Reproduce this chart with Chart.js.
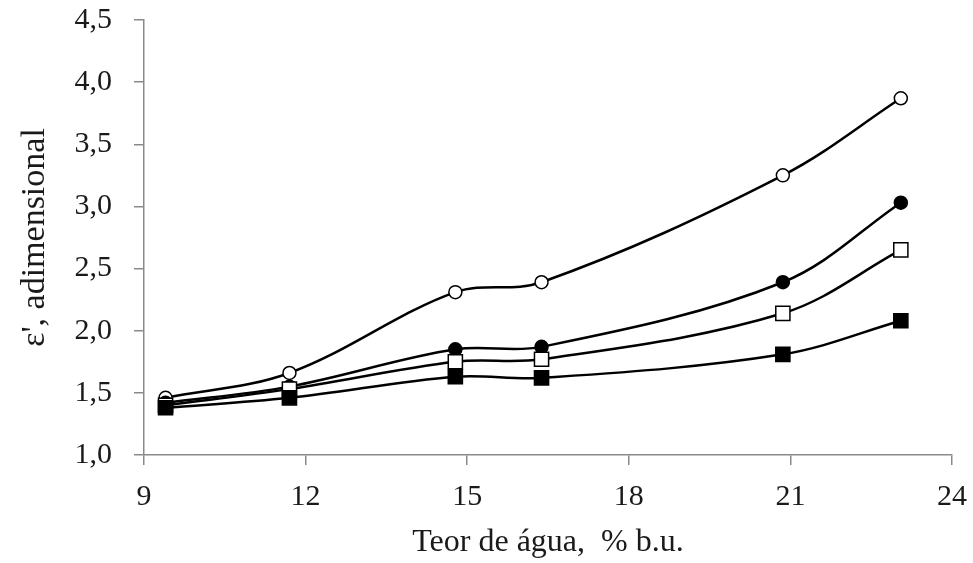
<!DOCTYPE html>
<html>
<head>
<meta charset="utf-8">
<script src="https://cdn.jsdelivr.net/npm/chart.js@4.4.1/dist/chart.umd.min.js"></script>
<style>
  html, body { margin: 0; padding: 0; background: #fff; }
  #wrap { width: 973px; height: 563px; }
</style>
</head>
<body>
<div id="wrap"><canvas id="chart" width="973" height="563"></canvas></div>
<script>
// teor de água (% b.u.) e constante dielétrica para as quatro séries
const teor = [9.4, 11.7, 14.78, 16.38, 20.86, 23.05];
const circuloAberto = [1.46, 1.66, 2.31, 2.39, 3.25, 3.87];
const circuloCheio = [1.42, 1.55, 1.85, 1.87, 2.39, 3.03];
const quadradoAberto = [1.40, 1.53, 1.75, 1.77, 2.14, 2.65];
const quadradoCheio = [1.38, 1.46, 1.63, 1.62, 1.81, 2.08];

const xMin = 9, xMax = 24, xStep = 3;
const yMin = 1.0, yMax = 4.5, yStep = 0.5;

const eixoCor = '#8a8a8a';
const textoCor = '#1a1a1a';
const fonte = 'Liberation Serif';

function pontos(ys) {
    return teor.map(function (x, i) {
        return { x: x, y: ys[i] };
    });
}

function serie(ys, estilo, cheio) {
    return {
        data: pontos(ys),
        showLine: true,
        borderColor: '#000',
        borderWidth: 2.5,
        tension: 0.35,
        pointStyle: estilo,
        pointRadius: estilo === 'rect' ? 10 : 6.5,
        pointBorderWidth: 1.5,
        pointBorderColor: '#000',
        pointBackgroundColor: cheio ? '#000' : '#fff'
    };
}

const ctx = document.getElementById('chart').getContext('2d');

new Chart(ctx, {
    type: 'scatter',
    data: {
        datasets: [
            serie(quadradoCheio, 'rect', true),
            serie(quadradoAberto, 'rect', false),
            serie(circuloCheio, 'circle', true),
            serie(circuloAberto, 'circle', false)
        ]
    },
    options: {
        responsive: false,
        animation: false,
        layout: { padding: { left: 0, right: 21, top: 20, bottom: 0 } },
        plugins: {
            legend: { display: false },
            tooltip: { enabled: false }
        },
        scales: {
            x: {
                type: 'linear',
                min: xMin,
                max: xMax,
                border: { color: eixoCor, width: 1.5 },
                grid: { drawOnChartArea: false, drawTicks: true, tickLength: 10, color: eixoCor, lineWidth: 1.5 },
                ticks: {
                    stepSize: xStep,
                    padding: 14,
                    color: textoCor,
                    font: { family: fonte, size: 30 }
                },
                title: {
                    display: true,
                    text: 'Teor de água,  % b.u.',
                    color: textoCor,
                    font: { family: fonte, size: 32 },
                    padding: { top: 0, bottom: 1 }
                },
                // altura fixa do eixo, sem folga extra para os rótulos
                afterFit: function (s) {
                    s.height = 108;
                    s.paddingLeft = 0;
                    s.paddingRight = 0;
                }
            },
            y: {
                type: 'linear',
                min: yMin,
                max: yMax,
                border: { color: eixoCor, width: 1.5 },
                grid: { drawOnChartArea: false, drawTicks: true, tickLength: 10, color: eixoCor, lineWidth: 1.5 },
                ticks: {
                    stepSize: yStep,
                    padding: 22,
                    color: textoCor,
                    font: { family: fonte, size: 30 },
                    callback: function (v) {
                        return v.toFixed(1).replace('.', ',');
                    }
                },
                title: {
                    display: true,
                    text: "ε', adimensional",
                    color: textoCor,
                    font: { family: fonte, size: 34 },
                    padding: { top: 15, bottom: 0 }
                },
                afterFit: function (s) {
                    s.width = 144;
                    s.paddingTop = 0;
                    s.paddingBottom = 0;
                }
            }
        }
    }
});
</script>
</body>
</html>
